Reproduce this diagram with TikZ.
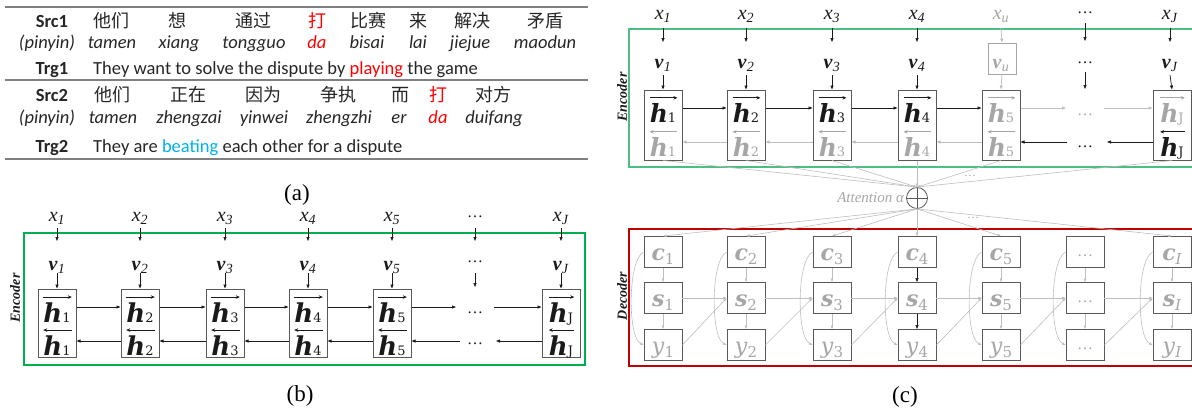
\documentclass[tikz,border=0pt]{standalone}
\usepackage{fontspec}
\setmainfont{Liberation Serif}
\newfontfamily\tabfont{Carlito}
\newfontfamily\zhfont{Noto Sans CJK SC}
\newfontfamily\symfont{DejaVu Serif}
\usetikzlibrary{arrows.meta,calc}

\definecolor{txt}{HTML}{262626}
\definecolor{hlred}{HTML}{FF0000}
\definecolor{hlblue}{HTML}{00B0F0}
\definecolor{rulegray}{HTML}{808080}
\definecolor{encgreen}{HTML}{00B050}
\definecolor{encgreenc}{HTML}{4DBD84}
\definecolor{decred}{HTML}{C00000}
\definecolor{faded}{HTML}{A6A6A6}
\definecolor{faint}{HTML}{BEBEBE}
\definecolor{ink}{HTML}{1A1A1A}
\definecolor{boxline}{HTML}{595959}

\newcommand{\seqx}[1]{\textit{x}\textsubscript{\textit{#1}}}
\newcommand{\seqv}[1]{\textbf{\textit{v}}\textsubscript{\textit{#1}}}

% hidden-state label: bold italic h with a subscript and an arrow above it
% #1 name, #2 x, #3 baseline, #4 subscript, #5 colour, #6 size, #7 subscript size, #8 arrow style
\newcommand{\hlabel}[8]{%
  \node[inner sep=0pt, anchor=base, text=#5, font=\symfont\fontsize{#6}{#6}\selectfont]
    (#1) at (#2,#3) {{\bfseries\itshape h\/}{\fontsize{#7}{#7}\selectfont #4}};
  \draw[draw=#5, line width=1.1pt, #8] ($(#1.north west)+(0,-5)$) -- ($(#1.north east)+(1,-5)$);
}

\tikzset{
  tab/.style={font=\tabfont\fontsize{18.5}{20}\selectfont, text=txt, inner sep=0pt, anchor=base},
  tabb/.style={tab, font=\tabfont\bfseries\fontsize{18.5}{20}\selectfont},
  tabi/.style={tab, font=\tabfont\itshape\fontsize{18.5}{20}\selectfont},
  zh/.style={tab, font=\zhfont\fontsize{18}{20}\selectfont},
  panellabel/.style={font=\fontsize{23}{26}\selectfont, inner sep=0pt},
  sidelabel/.style={font=\bfseries\itshape\fontsize{14}{16}\selectfont, text=ink, rotate=90, inner sep=0pt},
  seq/.style={font=\fontsize{20}{24}\selectfont, text=ink, inner sep=0pt, anchor=base},
  dots/.style={font=\fontsize{16}{18}\selectfont, text=ink, inner sep=0pt},
  hcell/.style={draw=boxline, line width=1pt, minimum width=38pt, minimum height=68pt, inner sep=0pt},
  hcellc/.style={hcell, minimum height=70pt},
  fwtip/.style={-{Stealth[length=4pt,width=3.5pt]}},
  bwtip/.style={{Stealth[length=4pt,width=3.5pt]}-},
  arr/.style={draw=ink, line width=0.7pt, -{Triangle[length=4pt,width=3pt]}},
  farr/.style={arr, draw=faint, fill=faint},
  attline/.style={draw=faint, line width=0.6pt, -{Triangle[length=3.5pt,width=2.5pt]}},
  dcell/.style={draw=boxline, line width=0.9pt, minimum width=38pt, minimum height=31pt, inner sep=0pt},
  dlab/.style={font=\symfont\fontsize{22}{24}\selectfont, text=faded, inner sep=0pt, anchor=base},
  dline/.style={draw=faint, line width=0.6pt, -{Triangle[length=3.5pt,width=2.5pt]}},
}
\newcommand{\dsub}[1]{\raisebox{-4pt}{\fontsize{15}{15}\selectfont #1}}

\begin{document}
\begin{tikzpicture}[x=1pt,y=-1pt]
\useasboundingbox (0,0) rectangle (1192,410);

% ================= (a) the two example sentences =================
\draw[rulegray, line width=1.3pt] (5,7) -- (588,7);
\draw[rulegray, line width=1.3pt] (5,80) -- (588,80);
\draw[rulegray, line width=1.3pt] (5,159) -- (588,159);

\node[tabb] (src1) at (52,27) {Src1};
\foreach \w/\x [count=\k] in {他们/111,想/177,通过/253,比赛/368,来/418,解决/472,矛盾/545}
  \node[zh] (sa\k) at (\x,27) {\w};
\node[zh, text=hlred] (sada) at (317,27) {打};

\node[tabi] (pya) at (47,48) {(pinyin)};
\foreach \w/\x [count=\k] in {tamen/112,xiang/179,tongguo/254,bisai/367,lai/418,jiejue/470,maodun/545}
  \node[tabi] (pa\k) at (\x,48) {\w};
\node[tabi, text=hlred] (pada) at (317,48) {da};

\node[tabb] (trg1) at (52,74) {Trg1};
\node[tab, anchor=base west] (trgone) at (93,74) {They want to solve the dispute by \textcolor{hlred}{playing} the game};

\node[tabb] (src2) at (52,101) {Src2};
\foreach \w/\x [count=\k] in {他们/112,正在/188,因为/263,争执/338,而/400,对方/493}
  \node[zh] (sb\k) at (\x,101) {\w};
\node[zh, text=hlred] (sbda) at (438,101) {打};

\node[tabi] (pyb) at (47,123) {(pinyin)};
\foreach \w/\x [count=\k] in {tamen/113,zhengzai/189,yinwei/264,zhengzhi/339,er/399,duifang/494}
  \node[tabi] (pb\k) at (\x,123) {\w};
\node[tabi, text=hlred] (pbda) at (438,123) {da};

\node[tabb] (trg2) at (52,152) {Trg2};
\node[tab, anchor=base west] (trgtwo) at (93,152) {They are \textcolor{hlblue}{beating} each other for a dispute};

\node[panellabel] (capa) at (297,195) {(a)};

% ================= (b) bidirectional encoder =================
\draw[encgreen, line width=1.2pt] (24,233) rectangle (585,365);
\node[sidelabel] (encb) at (15,298) {Encoder};

\foreach \i/\x in {1/57,2/140,3/225,4/308,5/392} {
  \node[seq] (bx\i) at (\x,221) {\seqx{\i}};
  \node[seq] (bv\i) at (\x,270) {\seqv{\i}};
  \node[hcell] (bb\i) at (\x,323) {};
  \hlabel{bf\i}{\x}{322}{\i}{ink}{26}{13}{fwtip}
  \hlabel{bk\i}{\x}{355}{\i}{ink}{26}{13}{bwtip}
  \draw[arr] ($(bx\i.base)+(0,7)$) -- ($(bv\i.base)+(0,-29)$);
  \draw[arr] ($(bv\i.base)+(0,3)$) -- (bb\i.north);
}
\node[seq] (bxJ) at (561,221) {\seqx{J}};
\node[seq] (bvJ) at (561,270) {\seqv{J}};
\node[hcell] (bbJ) at (561,323) {};
\hlabel{bfJ}{561}{322}{J}{ink}{26}{13}{fwtip}
\hlabel{bkJ}{561}{355}{J}{ink}{26}{13}{bwtip}
\draw[arr] ($(bxJ.base)+(0,7)$) -- ($(bvJ.base)+(0,-29)$);
\draw[arr] ($(bvJ.base)+(0,3)$) -- (bbJ.north);

% column of ellipses
\node[dots] (bx6) at (475,217) {…};
\node[dots] (bv6) at (475,262) {…};
\node[dots] (bf6) at (475,313) {…};
\node[dots] (bk6) at (475,344) {…};
\coordinate (bd6) at (475,287);
\draw[arr] ($(bx6)+(0,11)$) -- ($(bv6)+(0,-21)$);
\draw[arr] ($(bv6)+(0,11)$) -- (bd6);

% forward and backward recurrences
\foreach \i/\j in {1/2,2/3,3/4,4/5} {
  \draw[arr] ($(bb\i.east)+(0,-16)$) -- ($(bb\j.west)+(0,-16)$);
  \draw[arr] ($(bb\j.west)+(0,18)$) -- ($(bb\i.east)+(0,18)$);
}
\coordinate (bfa) at (456,307);
\coordinate (bfb) at (494,307);
\coordinate (bka) at (496,341);
\coordinate (bkb) at (460,341);
\draw[arr] ($(bb5.east)+(0,-16)$) -- (bfa);
\draw[arr] (bfb) -- ($(bbJ.west)+(0,-16)$);
\draw[arr] ($(bbJ.west)+(0,18)$) -- (bka);
\draw[arr] (bkb) -- ($(bb5.east)+(0,18)$);

\node[panellabel] (capb) at (300,396) {(b)};

% ================= (c) encoder, attention, decoder =================
\draw[encgreenc, line width=1.6pt] (629,29) rectangle (1196,167);
\node[sidelabel] (encc) at (622,97) {Encoder};

\foreach \i/\x in {1/663,2/746,3/832,4/917} {
  \node[seq] (cx\i) at (\x,19) {\seqx{\i}};
  \node[seq] (cv\i) at (\x,68) {\seqv{\i}};
  \node[hcellc] (cb\i) at (\x,125) {};
  \hlabel{cf\i}{\x}{122}{\i}{ink}{25}{13}{fwtip}
  \hlabel{ck\i}{\x}{156}{\i}{faded}{25}{13}{bwtip}
  \draw[arr] ($(cx\i.base)+(0,9)$) -- ($(cv\i.base)+(0,-26)$);
  \draw[arr] ($(cv\i.base)+(0,7)$) -- (cb\i.north);
}
% the unattended word x_u
\node[seq, text=faded] (cxu) at (1001,19) {\seqx{u}};
\node[draw=faded, line width=0.9pt, minimum width=28pt, minimum height=31pt, inner sep=0pt] (cvub) at (1002,58.5) {};
\node[seq, text=faded] (cvu) at (1001,68) {\seqv{u}};
\node[hcellc] (cb5) at (1001,125) {};
\hlabel{cf5}{1001}{122}{5}{faded}{25}{13}{fwtip}
\hlabel{ck5}{1001}{156}{5}{faded}{25}{13}{bwtip}
\draw[farr] ($(cxu.base)+(0,9)$) -- (cvub.north);
\draw[farr] (cvub.south) -- (cb5.north);

\node[seq] (cxJ) at (1170,19) {\seqx{J}};
\node[seq] (cvJ) at (1170,68) {\seqv{J}};
\node[hcellc] (cbJ) at (1172,125) {};
\hlabel{cfJ}{1172}{122}{J}{faded}{25}{13}{fwtip}
\hlabel{ckJ}{1172}{156}{J}{ink}{25}{13}{bwtip}
\draw[arr] ($(cxJ.base)+(0,9)$) -- ($(cvJ.base)+(0,-26)$);
\draw[arr] ($(cvJ.base)+(0,7)$) -- (cbJ.north);

\node[dots] (cx6) at (1085,13) {…};
\node[dots] (cv6) at (1085,63) {…};
\node[dots, text=faded] (cf6) at (1085,115) {…};
\node[dots] (ck6) at (1085,147) {…};
\coordinate (cd6) at (1085,89);
\draw[arr] ($(cx6)+(0,10)$) -- ($(cv6)+(0,-22)$);
\draw[arr] ($(cv6)+(0,9)$) -- (cd6);

\foreach \i/\j in {1/2,2/3,3/4,4/5} {
  \draw[arr] ($(cb\i.east)+(0,-17)$) -- ($(cb\j.west)+(0,-17)$);
  \draw[farr] ($(cb\j.west)+(0,17)$) -- ($(cb\i.east)+(0,17)$);
}
\coordinate (cfa) at (1066,108);
\coordinate (cfb) at (1104,108);
\coordinate (cka) at (1107,142);
\coordinate (ckb) at (1067,142);
\draw[farr] ($(cb5.east)+(0,-17)$) -- (cfa);
\draw[farr] (cfb) -- ($(cbJ.west)+(0,-17)$);
\draw[arr] ($(cbJ.west)+(0,17)$) -- (cka);
\draw[arr] (ckb) -- ($(cb5.east)+(0,17)$);

% attention node
\node[circle, draw=boxline, line width=0.8pt, minimum size=21pt, inner sep=0pt,
      path picture={\draw[boxline, line width=0.7pt]
        (path picture bounding box.north) -- (path picture bounding box.south)
        (path picture bounding box.west) -- (path picture bounding box.east);}]
      (att) at (917,198) {};
\node[font=\itshape\fontsize{15}{17}\selectfont, text=faded, inner sep=0pt, anchor=east]
      (attlbl) at ($(att.west)+(-2,0)$) {Attention α};
\foreach \i in {1,2,3,4,5,J}
  \draw[attline] (cb\i.south) -- (att.north);
\node[font=\fontsize{12}{14}\selectfont, text=faded, inner sep=0pt] (attdu) at (970,176) {…};

% decoder
\draw[decred, line width=1.6pt] (629,229) rectangle (1196,366);
\node[sidelabel] (decc) at (622,296) {Decoder};

\foreach \i/\x in {1/663,2/746,3/832,4/917,5/1001,6/1085,7/1172} {
  \node[dcell] (dc\i) at (\x,252) {};
  \node[dcell] (ds\i) at (\x,298) {};
  \node[dcell] (dy\i) at (\x,345) {};
}
\foreach \i/\x in {1/663,2/746,3/832,4/917,5/1001} {
  \node[dlab] (dcl\i) at (\x,260) {{\bfseries\itshape c\/}\dsub{\i}};
  \node[dlab] (dsl\i) at (\x,306) {{\bfseries\itshape s\/}\dsub{\i}};
  \node[dlab] (dyl\i) at (\x,353) {{\itshape y\/}\dsub{\i}};
}
\node[dlab] (dcl7) at (1172,260) {{\bfseries\itshape c\/}\dsub{\itshape I}};
\node[dlab] (dsl7) at (1172,306) {{\bfseries\itshape s\/}\dsub{\itshape I}};
\node[dlab] (dyl7) at (1172,353) {{\itshape y\/}\dsub{\itshape I}};
\node[dots, text=faded] (dcl6) at (1085,256) {…};
\node[dots, text=faded] (dsl6) at (1085,302) {…};
\node[dots, text=faded] (dyl6) at (1085,349) {…};

\foreach \i in {1,2,3,4,5,7}
  \draw[attline] (att.south) -- (dc\i.north);
\node[font=\fontsize{12}{14}\selectfont, text=faded, inner sep=0pt] (attdd) at (973,218) {…};

\foreach \i in {1,2,3,5,6,7} {
  \draw[dline] (dc\i) -- (ds\i);
  \draw[dline] (ds\i) -- (dy\i);
}
\draw[arr, line width=0.6pt] (dc4) -- (ds4);
\draw[arr, line width=0.6pt] (ds4) -- (dy4);

\foreach \i in {1,...,7}
  \draw[dline] (dc\i.west) .. controls +(-16,8) and +(-16,-8) .. (dy\i.west);

\foreach \i/\j in {1/2,2/3,3/4,4/5,5/6,6/7} {
  \draw[dline] (ds\i) -- (ds\j);
  \draw[dline] (dy\i.east) -- (ds\j.west);
}

\node[panellabel] (capc) at (905,397) {(c)};
\end{tikzpicture}
\end{document}
